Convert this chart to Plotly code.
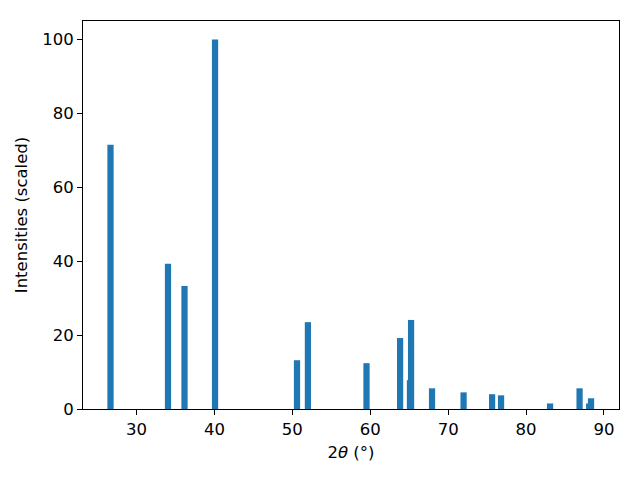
import plotly.graph_objects as go

two_theta = [26.66, 34.04, 36.16, 40.08, 50.6, 52.0, 59.52, 63.83, 65.1, 65.24,
             67.93, 71.98, 75.64, 76.79, 83.08, 86.87, 88.1, 88.34]
intensity = [71.5, 39.3, 33.3, 100.0, 13.2, 23.5, 12.4, 19.2, 7.8, 24.1,
             5.6, 4.5, 4.0, 3.7, 1.5, 5.6, 1.5, 2.9]
x_ticks = [30, 40, 50, 60, 70, 80, 90]
y_ticks = [0, 20, 40, 60, 80, 100]

fig = go.Figure()
for xv, yv in zip(two_theta, intensity):
    fig.add_trace(go.Bar(x=[xv], y=[yv], width=0.8, marker=dict(color="#1f77b4", line=dict(width=0)),
                         showlegend=False))

axis_common = dict(showline=True, linecolor="black", linewidth=1, mirror=True,
                   ticks="outside", ticklen=5, tickcolor="black", showgrid=False, zeroline=False,
                   automargin=False, tickfont=dict(size=16.5, color="black"))
fig.update_layout(
    barmode="overlay",
    width=640, height=480,
    margin=dict(l=75, r=29, t=13, b=79, autoexpand=False),
    paper_bgcolor="white", plot_bgcolor="white",
    font=dict(family="DejaVu Sans", size=16.5, color="black"),
    xaxis=dict(range=[23.13, 91.93], tickvals=x_ticks,
               title=dict(text="2<i>θ</i> (°)", font=dict(size=16.5), standoff=8),
               **axis_common),
    yaxis=dict(range=[0, 105], tickvals=y_ticks,
               title=dict(text="Intensities (scaled)", font=dict(size=16.5), standoff=10),
               **axis_common),
)
fig.write_html("out.html")
